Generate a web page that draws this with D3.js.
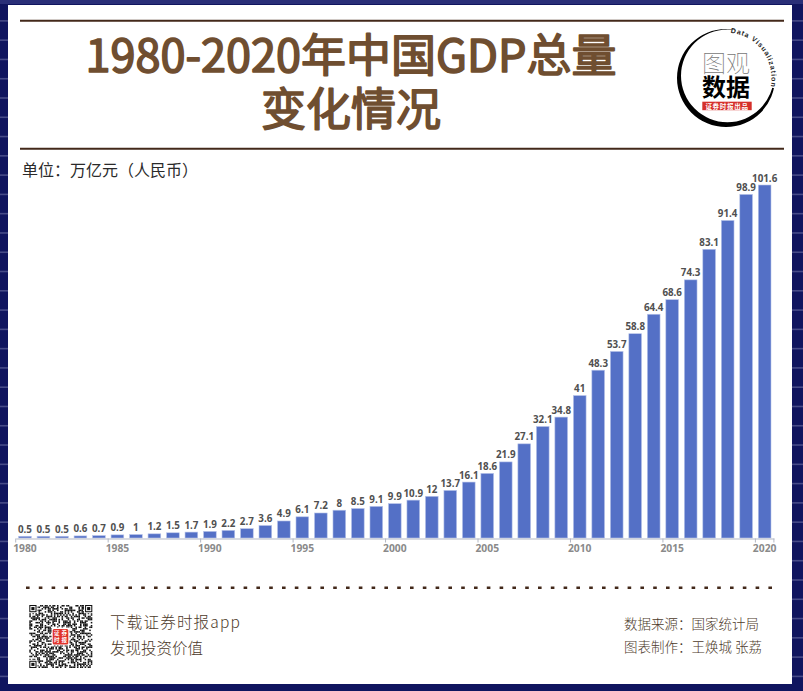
<!DOCTYPE html>
<html>
<head>
<meta charset="utf-8">
<script src="https://cdn.jsdelivr.net/npm/d3@7"></script>
<style>
  html, body { margin: 0; padding: 0; background: #10155f; }
  svg { display: block; }
  text { font-family: "Noto Sans CJK SC", "Noto Sans", sans-serif; }
</style>
</head>
<body>
<script>
const years = d3.range(1980, 2021).map(String);
const gdp = [0.5, 0.5, 0.5, 0.6, 0.7, 0.9, 1, 1.2, 1.5, 1.7, 1.9, 2.2, 2.7, 3.6, 4.9, 6.1, 7.2, 8, 8.5, 9.1,
  9.9, 10.9, 12, 13.7, 16.1, 18.6, 21.9, 27.1, 32.1, 34.8, 41, 48.3, 53.7, 58.8, 64.4, 68.6, 74.3, 83.1, 91.4, 98.9, 101.6];
const tickYears = ["1980", "1985", "1990", "1995", "2000", "2005", "2010", "2015", "2020"];
const titleLines = ["1980-2020年中国GDP总量", "变化情况"];
const unitLabel = "单位：万亿元（人民币）";
const appLines = ["下载证券时报app", "发现投资价值"];
const creditLines = ["数据来源：国家统计局", "图表制作：王焕城 张荔"];
const logoThin = "图观";
const logoBold = "数据";
const logoStrip = "证券时报出品";
const logoArc = "Data Visualization";
const sealChars = ["证", "券", "时", "报"];
// QR look-alike, hex rows reused with a shift to fill the module grid
const qrRows = [
  "a1b5a6c37", "5e73d9418", "c2e42b796", "3f9c5e1a4", "8d51b6a2e", "17ea47d5c", "b4aaaaa63", "693d6b2f1",
  "b7e29c4d8", "4c1d73ea2", "e95b06a74", "27c8f1d3a", "9a36e5c18", "d14b7a2e6", "6ef0934b2", "38a5dc71c",
  "c7126ea94", "5bd8347e0", "a249fc6d2", "1e73b09c8", "f68a25d36", "3dc17e4a8", "8b54e9072", "e1a63dbc4",
  "72f84c1e6", "94d39a574", "2b6ae27c8", "d6b14d6f2", "4175c83a4", "c8ea196d8", "5e36f7b26", "a3c95ae14", "1f7b2d398"
];

const w = 803;
const h = 691;
const brown = "#43291a";
const titleColor = "#6f4e30";
const barColor = "#5470c6";
const footColor = "#4d3a2a";

const svg = d3.select("body")
  .append("svg")
  .attr("width", w)
  .attr("height", h);

// navy frame with thin stripes
svg.append("rect")
  .attr("width", w)
  .attr("height", h)
  .attr("fill", "#10155f");
svg.append("rect")
  .attr("width", w)
  .attr("height", 4)
  .attr("fill", "#2a2f78");
svg.append("g")
  .selectAll("rect")
  .data(d3.range(1, 36))
  .enter()
  .append("rect")
  .attr("x", 0)
  .attr("y", d => 0.8 + d * 19.28)
  .attr("width", w)
  .attr("height", 1.6)
  .attr("fill", "#474b88");

// white panel
svg.append("rect")
  .attr("x", 8)
  .attr("y", 5)
  .attr("width", 784)
  .attr("height", 679)
  .attr("fill", "#fff");

// header rules
[20.7, 148.7].forEach(ry => {
  svg.append("line")
    .attr("x1", 20)
    .attr("x2", 784)
    .attr("y1", ry)
    .attr("y2", ry)
    .attr("stroke", brown)
    .attr("stroke-width", 2);
});

// title, thin stroke with round joins to soften the glyphs
svg.append("g")
  .selectAll("text")
  .data(titleLines)
  .enter()
  .append("text")
  .attr("x", 351)
  .attr("y", (d, i) => 72 + i * 54)
  .attr("text-anchor", "middle")
  .attr("font-size", 45)
  .attr("font-weight", 400)
  .attr("fill", titleColor)
  .attr("stroke", titleColor)
  .attr("stroke-width", 1.6)
  .attr("stroke-linejoin", "round")
  .attr("stroke-linecap", "round")
  .text(d => d);

svg.append("text")
  .attr("x", 22)
  .attr("y", 176)
  .attr("font-size", 16)
  .attr("fill", "#2a2a2a")
  .text(unitLabel);

// chart
const x = d3.scaleBand()
  .domain(years)
  .range([15.7, 773.9])
  .paddingInner(0.313)
  .paddingOuter(0.157);
const y = d3.scaleLinear()
  .domain([0, 101.6])
  .range([538, 185]);

const rows = years.map((d, i) => ({ year: d, value: gdp[i] }));

svg.append("g")
  .selectAll("rect")
  .data(rows)
  .enter()
  .append("rect")
  .attr("x", d => x(d.year))
  .attr("y", d => y(d.value))
  .attr("width", x.bandwidth())
  .attr("height", d => y(0) - y(d.value))
  .attr("fill", barColor)
  .attr("stroke", "#b9c5ea")
  .attr("stroke-width", 0.6);

svg.append("g")
  .selectAll("text")
  .data(rows)
  .enter()
  .append("text")
  .attr("x", d => x(d.year) + x.bandwidth() / 2)
  .attr("y", d => y(d.value) - 3.5)
  .attr("text-anchor", "middle")
  .attr("font-size", 9.8)
  .attr("font-weight", 700)
  .attr("fill", "#505050")
  .style("font-family", "'Open Sans', sans-serif")
  .text(d => d.value);

const xAxis = d3.axisBottom(x)
  .tickValues(tickYears)
  .tickSize(0)
  .tickPadding(6);
const xAxisGroup = svg.append("g")
  .attr("transform", "translate(0,538.5)")
  .call(xAxis);
xAxisGroup.select(".domain")
  .attr("stroke", "#b4b8c4")
  .attr("stroke-width", 1.2);
xAxisGroup.selectAll("text")
  .attr("font-size", 10.3)
  .attr("font-weight", 700)
  .attr("fill", "#8a8a8a")
  .style("font-family", "'Open Sans', sans-serif");
// ticks sit on the left edge of each band
const step = x.step();
xAxisGroup.selectAll(".tick line").remove();
xAxisGroup.selectAll(".tick")
  .append("line")
  .attr("x1", -step / 2)
  .attr("x2", -step / 2)
  .attr("y1", 0)
  .attr("y2", 4)
  .attr("stroke", "#b4b8c4");
xAxisGroup.append("line")
  .attr("x1", 773.9)
  .attr("x2", 773.9)
  .attr("y1", 0)
  .attr("y2", 4)
  .attr("stroke", "#b4b8c4");

// dotted divider
svg.append("line")
  .attr("x1", 26)
  .attr("x2", 780)
  .attr("y1", 587.7)
  .attr("y2", 587.7)
  .attr("stroke", brown)
  .attr("stroke-width", 2.4)
  .attr("stroke-dasharray", "3.6 9.2");

// footer text
const appWidths = [130, 93];
svg.append("g")
  .selectAll("text")
  .data(appLines)
  .enter()
  .append("text")
  .attr("x", 110)
  .attr("y", (d, i) => 628 + i * 26.3)
  .attr("font-size", 15.5)
  .attr("font-weight", 300)
  .attr("textLength", (d, i) => appWidths[i])
  .attr("fill", footColor)
  .text(d => d);

svg.append("g")
  .selectAll("text")
  .data(creditLines)
  .enter()
  .append("text")
  .attr("x", 624)
  .attr("y", (d, i) => 629 + i * 22.6)
  .attr("font-size", 13.5)
  .attr("font-weight", 300)
  .attr("fill", footColor)
  .text(d => d);

// QR code, data cells are coarser than the finder grid
const qrX = 29.3;
const qrY = 605;
const qrSize = 63;
const qrCellsPerSide = 41;
const qrFinderGrid = 61;
const cell = d3.scaleLinear().domain([0, qrCellsPerSide]).range([0, qrSize]);
const mod = d3.scaleLinear().domain([0, qrFinderGrid]).range([0, qrSize]);
const qr = svg.append("g").attr("transform", `translate(${qrX},${qrY})`);
const qrCells = [];
d3.range(qrCellsPerSide).forEach(r => {
  const row = qrRows[r % qrRows.length];
  const bits = row.split("").map(c => parseInt(c, 16).toString(2).padStart(4, "0")).join("");
  d3.range(qrCellsPerSide).forEach(c => {
    if (bits[(c + r * 5) % bits.length] === "1") qrCells.push({ r, c });
  });
});
qr.selectAll("rect.cell")
  .data(qrCells)
  .enter()
  .append("rect")
  .attr("class", "cell")
  .attr("x", d => cell(d.c))
  .attr("y", d => cell(d.r))
  .attr("width", cell(1))
  .attr("height", cell(1))
  .attr("fill", "#111");
// corner finders
[[0, 0], [qrFinderGrid - 7, 0], [0, qrFinderGrid - 7]].forEach(p => {
  const g = qr.append("g").attr("transform", `translate(${mod(p[0])},${mod(p[1])})`);
  g.append("rect").attr("x", -mod(1)).attr("y", -mod(1)).attr("width", mod(9)).attr("height", mod(9)).attr("fill", "#fff");
  g.append("rect").attr("width", mod(7)).attr("height", mod(7)).attr("fill", "#111");
  g.append("rect").attr("x", mod(1)).attr("y", mod(1)).attr("width", mod(5)).attr("height", mod(5)).attr("fill", "#fff");
  g.append("rect").attr("x", mod(2)).attr("y", mod(2)).attr("width", mod(3)).attr("height", mod(3)).attr("fill", "#111");
});
// seal in the middle of the code
svg.append("rect")
  .attr("x", 51.5)
  .attr("y", 627.5)
  .attr("width", 18)
  .attr("height", 18)
  .attr("fill", "#fff");
svg.append("rect")
  .attr("x", 52.7)
  .attr("y", 629)
  .attr("width", 15.6)
  .attr("height", 15.6)
  .attr("rx", 1.5)
  .attr("fill", "#e0342c");
svg.append("g")
  .selectAll("text")
  .data(sealChars)
  .enter()
  .append("text")
  .attr("x", (d, i) => 56.8 + (i % 2) * 7.4)
  .attr("y", (d, i) => 635.4 + Math.floor(i / 2) * 7)
  .attr("text-anchor", "middle")
  .attr("font-size", 5.5)
  .attr("font-weight", 700)
  .attr("fill", "#fff")
  .text(d => d);

// logo: crescent ring, gap at the upper right for the arc text
const logoX = 726;
const logoY = 78;
const ringCx = 1.4;
const ringCy = -2.2;
const ringR = 46.4;
const logo = svg.append("g").attr("transform", `translate(${logoX},${logoY})`);
logo.append("path")
  .attr("fill-rule", "evenodd")
  .attr("fill", "#000")
  .attr("d", d3.arc()({ innerRadius: 0, outerRadius: 49, startAngle: 0, endAngle: 2 * Math.PI })
    + ` M ${ringCx + ringR} ${ringCy} A ${ringR} ${ringR} 0 1 0 ${ringCx - ringR} ${ringCy} A ${ringR} ${ringR} 0 1 0 ${ringCx + ringR} ${ringCy} Z`);
logo.append("path")
  .attr("fill", "#fff")
  .attr("d", d3.arc()({ innerRadius: 30, outerRadius: 52, startAngle: 0.2, endAngle: 1.78 }));
logo.append("path")
  .attr("id", "logoArcPath")
  .attr("fill", "none")
  .attr("d", d3.arc()({ innerRadius: 45.5, outerRadius: 45.5, startAngle: 0.1, endAngle: 2.2 }));
logo.append("text")
  .attr("font-size", 7)
  .attr("font-weight", 700)
  .attr("letter-spacing", 0.9)
  .attr("fill", "#222")
  .append("textPath")
  .attr("href", "#logoArcPath")
  .style("font-family", "'Liberation Sans', sans-serif")
  .text(logoArc);
logo.append("text")
  .attr("y", -6)
  .attr("text-anchor", "middle")
  .attr("font-size", 24)
  .attr("font-weight", 100)
  .attr("fill", "#777")
  .text(logoThin);
logo.append("text")
  .attr("y", 18)
  .attr("text-anchor", "middle")
  .attr("font-size", 24)
  .attr("font-weight", 700)
  .attr("fill", "#000")
  .text(logoBold);
logo.append("rect")
  .attr("x", -23.7)
  .attr("y", 23.7)
  .attr("width", 49.4)
  .attr("height", 8.5)
  .attr("fill", "#d5302b");
logo.append("text")
  .attr("x", 1)
  .attr("y", 30.6)
  .attr("text-anchor", "middle")
  .attr("font-size", 6.5)
  .attr("font-weight", 700)
  .attr("letter-spacing", 0.7)
  .attr("fill", "#fff")
  .text(logoStrip);
</script>
</body>
</html>
